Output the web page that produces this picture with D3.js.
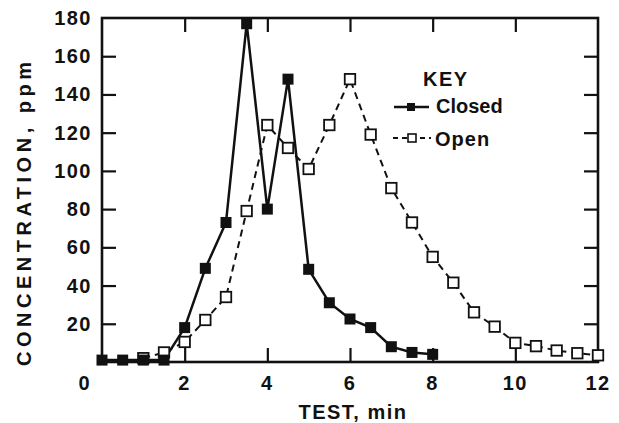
<!DOCTYPE html>
<html><head><meta charset="utf-8">
<script src="https://cdn.jsdelivr.net/npm/d3@7"></script>
<style>
html,body{margin:0;padding:0;background:#fff;}
text{font-family:"Liberation Sans",Arial,sans-serif;fill:#111;}
</style></head>
<body>
<svg id="chart" width="619" height="423"></svg>
<script>
const closedTime = [0, 0.5, 1.0, 1.5, 2.0, 2.5, 3.0, 3.5, 4.0, 4.5, 5.0, 5.5, 6.0, 6.5, 7.0, 7.5, 8.0];
const closedConc = [1, 1, 1, 1, 18, 49, 73, 177, 80, 148, 48.5, 31, 22.5, 18, 8, 5, 4];
const openTime = [1.0, 1.5, 2.0, 2.5, 3.0, 3.5, 4.0, 4.5, 5.0, 5.5, 6.0, 6.5, 7.0, 7.5, 8.0, 8.5, 9.0, 9.5, 10.0, 10.5, 11.0, 11.5, 12.0];
const openConc = [2, 5, 10.5, 22, 34, 79, 124, 112, 101, 124, 148, 119, 91, 73, 55, 41.5, 26, 18.5, 10, 8.3, 6, 4.6, 3.5];
const xTicks = [2, 4, 6, 8, 10, 12];
const yTicks = [20, 40, 60, 80, 100, 120, 140, 160, 180];
const xTitle = "TEST, min";
const yTitle = "CONCENTRATION, ppm";
const legendTitle = "KEY";
const seriesNames = ["Closed", "Open"];

const svg = d3.select("#chart");
const L = 102, R = 598, T = 18, B = 362;
const x = d3.scaleLinear().domain([0, 12]).range([L, R]);
const y = d3.scaleLinear().domain([0, 180]).range([B, T]);
const tickLen = 14;

// inward ticks on all four sides
const g = svg.append("g");
g.append("g").attr("transform", `translate(0,${B})`)
  .call(d3.axisBottom(x).tickValues(xTicks.filter(v => v < 12)).tickSizeInner(-tickLen).tickSizeOuter(0).tickFormat(""))
  .call(a => a.select(".domain").remove());
g.append("g").attr("transform", `translate(0,${T})`)
  .call(d3.axisTop(x).tickValues(xTicks.filter(v => v < 12)).tickSizeInner(-tickLen).tickSizeOuter(0).tickFormat(""))
  .call(a => a.select(".domain").remove());
g.append("g").attr("transform", `translate(${L},0)`)
  .call(d3.axisLeft(y).tickValues(yTicks.filter(v => v < 180)).tickSizeInner(-tickLen).tickSizeOuter(0).tickFormat(""))
  .call(a => a.select(".domain").remove());
g.append("g").attr("transform", `translate(${R},0)`)
  .call(d3.axisRight(y).tickValues(yTicks.filter(v => v < 180)).tickSizeInner(-tickLen).tickSizeOuter(0).tickFormat(""))
  .call(a => a.select(".domain").remove());
g.selectAll(".tick line").attr("stroke", "#111").attr("stroke-width", 2.2);

// frame
svg.append("rect").attr("x", L).attr("y", T).attr("width", R - L).attr("height", B - T)
  .attr("fill", "none").attr("stroke", "#111").attr("stroke-width", 2.6);

// tick labels
svg.append("g").selectAll("text").data(xTicks).join("text")
  .attr("x", d => x(d)).attr("y", B + 28).attr("text-anchor", "middle")
  .attr("font-size", 20).attr("font-weight", "bold").attr("letter-spacing", 1.5)
  .text(d => d);
svg.append("text").attr("x", x(0) - 18).attr("y", B + 28).attr("text-anchor", "middle")
  .attr("font-size", 20).attr("font-weight", "bold").text("0");
svg.append("g").selectAll("text").data(yTicks).join("text")
  .attr("x", L - 10).attr("y", d => y(d) + 7).attr("text-anchor", "end")
  .attr("font-size", 20).attr("font-weight", "bold").attr("letter-spacing", 1.5)
  .text(d => d);

// axis titles
svg.append("text").attr("x", 353).attr("y", 419).attr("text-anchor", "middle")
  .attr("font-size", 20).attr("font-weight", "bold").attr("letter-spacing", 1.5).text(xTitle);
svg.append("text").attr("transform", "translate(31,214) rotate(-90)").attr("text-anchor", "middle")
  .attr("font-size", 20).attr("font-weight", "bold").attr("textLength", 304).attr("lengthAdjust", "spacing").text(yTitle);

// lines
const closedData = closedTime.map((t, i) => [t, closedConc[i]]);
const openData = openTime.map((t, i) => [t, openConc[i]]);
const line = d3.line().x(d => x(d[0])).y(d => y(d[1]));
svg.append("path").datum(openData).attr("d", line).attr("fill", "none")
  .attr("stroke", "#111").attr("stroke-width", 2).attr("stroke-dasharray", "7,5");
svg.append("path").datum(closedData).attr("d", line).attr("fill", "none")
  .attr("stroke", "#111").attr("stroke-width", 2.5);

const ms = 10.5;
svg.append("g").selectAll("rect").data(openData).join("rect")
  .attr("x", d => x(d[0]) - ms / 2).attr("y", d => y(d[1]) - ms / 2)
  .attr("width", ms).attr("height", ms).attr("fill", "#fff").attr("stroke", "#111").attr("stroke-width", 1.8);
svg.append("g").selectAll("rect").data(closedData).join("rect")
  .attr("x", d => x(d[0]) - 5.5).attr("y", d => y(d[1]) - 5.5)
  .attr("width", 11).attr("height", 11).attr("fill", "#111");

// legend
const lg = svg.append("g");
lg.append("text").attr("x", 423).attr("y", 86).attr("font-size", 20).attr("font-weight", "bold").attr("letter-spacing", 1.5).text(legendTitle);
lg.append("line").attr("x1", 394).attr("x2", 429).attr("y1", 107).attr("y2", 107).attr("stroke", "#111").attr("stroke-width", 2.5);
lg.append("rect").attr("x", 407).attr("y", 103).attr("width", 8).attr("height", 8).attr("fill", "#111");
lg.append("text").attr("x", 436).attr("y", 113).attr("font-size", 20).attr("font-weight", "bold").text(seriesNames[0]);
lg.append("line").attr("x1", 393).attr("x2", 431).attr("y1", 138).attr("y2", 138).attr("stroke", "#111").attr("stroke-width", 2).attr("stroke-dasharray", "5,4");
lg.append("rect").attr("x", 408).attr("y", 134).attr("width", 8).attr("height", 8).attr("fill", "#fff").attr("stroke", "#111").attr("stroke-width", 1.6);
lg.append("text").attr("x", 435).attr("y", 146).attr("font-size", 20).attr("font-weight", "bold").attr("letter-spacing", 1).text(seriesNames[1]);
</script>
</body></html>
